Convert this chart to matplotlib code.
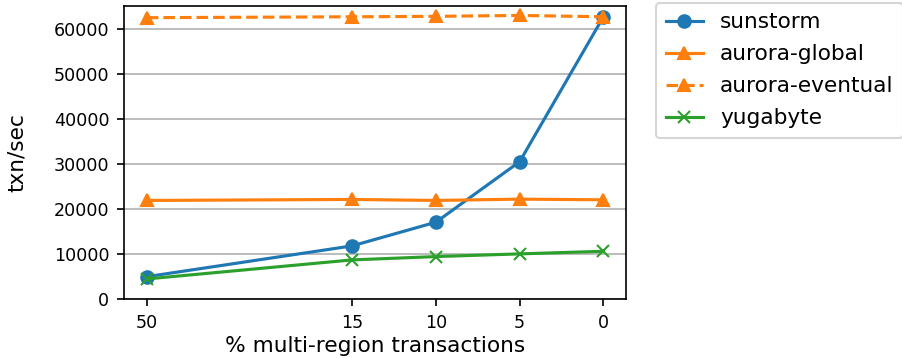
import matplotlib
matplotlib.use("Agg")
import matplotlib.pyplot as plt

# share of multi-region transactions (tick labels) and their axis slots
pct_labels = ["50", "15", "10", "5", "0"]
x_slots = [0, 2.45, 3.45, 4.45, 5.45]

# throughput, txn/sec
sunstorm = [4970, 11820, 17090, 30560, 62820]
aurora_global = [21930, 22150, 21930, 22220, 22070]
aurora_eventual = [62600, 62800, 62900, 63100, 62800]
yugabyte = [4460, 8700, 9440, 10040, 10620]

LABEL_FS = 10.4
TICK_FS = 8.4

fig = plt.figure(figsize=(902 / 150, 358 / 150), dpi=150)
ax = fig.add_axes([124 / 902, 1 - 299 / 358, (626.3 - 124) / 902, (299 - 6) / 358])

ax.plot(x_slots, sunstorm, marker="o", color="#1f77b4", label="sunstorm")
ax.plot(x_slots, aurora_global, marker="^", color="#ff7f0e", label="aurora-global")
ax.plot(x_slots, aurora_eventual, marker="^", linestyle="--", color="#ff7f0e",
        label="aurora-eventual")
ax.plot(x_slots, yugabyte, marker="x", color="#2ca02c", label="yugabyte")

ax.set_xticks(x_slots)
ax.set_xticklabels(pct_labels)
ax.set_ylim(0, 65200)
ax.set_yticks(range(0, 60001, 10000))
ax.tick_params(labelsize=TICK_FS)
ax.yaxis.grid(True, color="#b0b0b0", linewidth=0.8)
ax.set_axisbelow(True)

ax.set_xlabel("% multi-region transactions", fontsize=LABEL_FS, labelpad=2)
ax.set_ylabel("txn/sec", fontsize=LABEL_FS)
ax.yaxis.set_label_coords(-0.193, 0.5)

ax.legend(loc="upper left", bbox_to_anchor=(656 / 902, 1 - 2.7 / 358),
          bbox_transform=fig.transFigure, borderaxespad=0,
          fontsize=LABEL_FS, handlelength=1.7, borderpad=0.45,
          labelspacing=0.55)

fig.savefig("out.png", dpi=150)
